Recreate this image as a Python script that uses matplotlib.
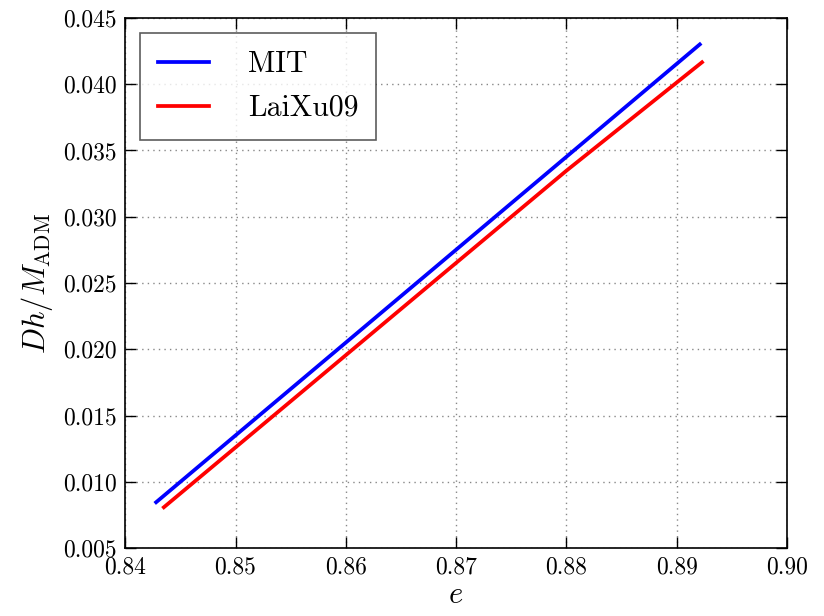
import matplotlib
matplotlib.use("Agg")
import matplotlib.pyplot as plt

plt.rcParams['font.family'] = 'serif'
plt.rcParams['font.serif'] = ['cmr10']
plt.rcParams['mathtext.fontset'] = 'cm'
plt.rcParams['axes.formatter.use_mathtext'] = True
plt.rcParams['axes.unicode_minus'] = False

e_mit = [0.8428, 0.8550, 0.8675, 0.8800, 0.8921]
dh_mit = [0.00847, 0.01701, 0.02576, 0.03452, 0.04300]

e_lx = [0.8435, 0.8550, 0.8675, 0.8800, 0.8923]
dh_lx = [0.00809, 0.01608, 0.02478, 0.03347, 0.04165]

xticks = [0.84, 0.85, 0.86, 0.87, 0.88, 0.89, 0.90]
yticks = [0.005, 0.010, 0.015, 0.020, 0.025, 0.030, 0.035, 0.040, 0.045]

fig = plt.figure(figsize=(8.24, 6.16), dpi=100)
ax = fig.add_axes([0.152, 0.110, 0.803, 0.861])

ax.plot(e_mit, dh_mit, color='blue', lw=2.7, label='MIT')
ax.plot(e_lx, dh_lx, color='red', lw=2.7, label='LaiXu09')

ax.set_xlim(0.84, 0.90)
ax.set_ylim(0.005, 0.045)
ax.set_xticks(xticks)
ax.set_xticklabels([f"{v:.2f}" for v in xticks])
ax.set_yticks(yticks)
ax.set_yticklabels([f"{v:.3f}" for v in yticks])
ax.tick_params(direction='in', top=True, right=True, length=8, width=1,
               labelsize=17, pad=6)
for s in ax.spines.values():
    s.set_linewidth(1.2)
ax.grid(True, linestyle=(0, (1, 3)), color='#888888', linewidth=1)

ax.set_xlabel(r'$e$', fontsize=22, labelpad=2)
ax.set_ylabel(r'$Dh/M_{\mathrm{ADM}}$', fontsize=22, labelpad=6)

leg = ax.legend(loc='upper left', fontsize=21.5, fancybox=False, frameon=True,
                borderpad=0.6, handlelength=1.7, handletextpad=1.3,
                labelspacing=0.55, borderaxespad=0.5)
leg.get_frame().set_edgecolor('#333333')
leg.get_frame().set_linewidth(1.2)

fig.savefig('out.png', dpi=100, facecolor='white')
